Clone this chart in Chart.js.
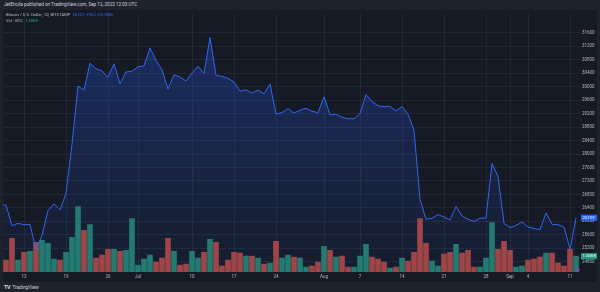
<!DOCTYPE html>
<html>
<head>
<meta charset="utf-8">
<script src="https://cdn.jsdelivr.net/npm/chart.js@4.4.0/dist/chart.umd.min.js"></script>
<style>
    html, body { margin: 0; padding: 0; width: 600px; height: 292px; overflow: hidden; background: #1e222d; font-family: Roboto, "Liberation Sans", sans-serif; }
    #head { position: absolute; left: 4px; top: 2px; font-size: 4.6px; color: #d1d4dc; white-space: nowrap; }
    #panel { position: absolute; left: 3px; top: 10px; width: 594px; height: 272px; background: #161a25; }
    #legend { position: absolute; left: 6px; top: 12px; font-size: 4.2px; line-height: 6px; color: #b2b5be; white-space: nowrap; }
    #legend .blue { color: #2f6bff; }
    #legend .teal { color: #26a69a; }
    #foot { position: absolute; left: 4px; top: 284px; font-size: 4.8px; color: #d1d4dc; white-space: nowrap; }
    #foot b { font-size: 5.4px; letter-spacing: -0.4px; margin-right: 1px; }
</style>
</head>
<body>
<div id="head">JetEncila published on TradingView.com, Sep 12, 2023 12:03 UTC</div>
<div id="panel"><canvas id="c" width="594" height="272"></canvas></div>
<div id="legend">
    <div>Bitcoin / U.S. Dollar, 1D, BITSTAMP&nbsp; <span class="blue">26107&nbsp; +952 (+3.78%)</span></div>
    <div>Vol · BTC&nbsp; <span class="teal">1.606K</span></div>
</div>
<div id="foot"><b>TV</b> TradingView</div>
<script>
// daily closes, Jun 8 .. Sep 12 2023 (day 0 = Jun 12)
const startDay = -4;
const closes = [
    26500, 26480, 25870, 25940, 25900, 25910, 25150, 25580, 26320, 26520, 26340, 26830, 28300,
    30020, 29900, 30700, 30530, 30470, 30280, 30680, 30090, 30440, 30460,
    30590, 30620, 31150, 30780, 30500, 29930, 30350, 30290, 30170, 30410, 30610, 30390, 31470,
    30330, 30310, 30250, 30140, 29870, 29910, 29810, 29900, 29790, 30080, 29190, 29230, 29350,
    29220, 29300, 29360, 29270, 29230,
    29700, 29170, 29180, 29090, 29050, 29050, 29200, 29770, 29560, 29430, 29410, 29420, 29280,
    29410, 29180, 28710, 26650, 26060, 26090, 26200, 26130, 26040, 26440, 26160, 26060, 26000,
    26090, 26100, 27720, 27320, 25940,
    25810, 25880, 25980, 25830, 25790, 25750, 26250, 25910, 25900, 25830, 25170, 26107
];
// volume in thousands of BTC
const volumes = [
    1.5, 1.2, 3.4, 1.2, 2.0, 2.1, 3.0, 3.2, 2.9, 1.3, 1.2, 2.0, 3.5,
    6.6, 4.2, 4.8, 1.4, 1.7, 2.3, 2.3, 2.1, 2.2, 5.4,
    0.7, 1.3, 1.7, 1.0, 1.4, 3.4, 2.1, 0.7, 0.8, 2.1, 1.4, 2.0, 3.3,
    3.0, 0.6, 1.2, 2.0, 1.9, 1.6, 1.6, 1.4, 0.8, 0.9, 3.1, 1.4, 1.7,
    1.5, 1.4, 0.5, 0.6, 1.0,
    2.6, 2.2, 1.5, 1.6, 0.5, 0.5, 1.6, 2.8, 1.5, 1.3, 1.0, 0.4, 0.5,
    1.4, 1.1, 2.0, 5.4, 2.9, 1.1, 0.6, 1.8, 2.0, 2.8, 1.9, 2.2, 0.5,
    0.5, 1.4, 5.0, 2.3, 3.1,
    2.2, 0.5, 0.6, 1.2, 1.3, 1.5, 1.9, 1.9, 0.9, 0.6, 2.3, 1.606
];
const tickDays = [0, 7, 14, 19, 28, 35, 42, 50, 56, 63, 70, 77, 81, 84, 91];
const tickLabels = ['12', '19', '26', 'Jul', '10', '17', '24', 'Aug', '7', '14', '21', '28', 'Sep', '4', '11'];
const priceTicks = [24800, 25200, 25600, 26000, 26400, 26800, 27200, 27600, 28000, 28400,
    28800, 29200, 29600, 30000, 30400, 30800, 31200, 31600];

const blue = '#3266f0';
const up = '#227a71';
const down = '#9e4548';
const grid = 'rgba(60,64,78,0.32)';
const muted = '#b2b5be';

const pricePts = closes.map((c, i) => ({ x: startDay + i, y: c }));
const volPts = volumes.map((v, i) => ({ x: startDay + i, y: v }));
const volColors = closes.map((c, i) => (i === 0 || c >= closes[i - 1]) ? up : down);

const areaFill = (ctx) => {
    const a = ctx.chart.chartArea;
    if (!a) return 'rgba(41,98,255,0.2)';
    const g = ctx.chart.ctx.createLinearGradient(0, a.top, 0, a.bottom);
    g.addColorStop(0, 'rgba(41,98,255,0.30)');
    g.addColorStop(1, 'rgba(41,98,255,0.04)');
    return g;
};

// last value tags on the right axis
const lastTags = {
    id: 'lastTags',
    afterDraw(chart) {
        const { ctx, chartArea: a, scales } = chart;
        const tag = (y, bg, text) => {
            ctx.fillStyle = bg;
            ctx.fillRect(a.right, y - 3, 16, 6);
            ctx.fillStyle = '#ffffff';
            ctx.font = '4.4px Roboto, sans-serif';
            ctx.textBaseline = 'middle';
            ctx.textAlign = 'left';
            ctx.fillText(text, a.right + 1.5, y + 0.2);
        };
        tag(scales.y.getPixelForValue(closes[closes.length - 1]), '#2962ff', String(closes[closes.length - 1]));
        tag(scales.vol.getPixelForValue(volumes[volumes.length - 1]), '#1f9a83', volumes[volumes.length - 1].toFixed(3) + 'K');
        ctx.beginPath();
        ctx.arc(a.right - 3, a.bottom - 2, 1.8, 0, Math.PI * 2);
        ctx.fillStyle = '#8e44ad';
        ctx.fill();
    }
};

new Chart(document.getElementById('c'), {
    type: 'bar',
    data: {
        datasets: [
            {
                type: 'line',
                data: pricePts,
                yAxisID: 'y',
                borderColor: blue,
                borderWidth: 1,
                pointRadius: 0,
                tension: 0,
                fill: false,
                order: 0
            },
            {
                type: 'bar',
                data: volPts,
                yAxisID: 'vol',
                backgroundColor: volColors,
                barThickness: 5,
                order: 1
            },
            {
                type: 'line',
                data: pricePts,
                yAxisID: 'y',
                borderWidth: 0,
                pointRadius: 0,
                tension: 0,
                fill: 'start',
                backgroundColor: areaFill,
                order: 2
            }
        ]
    },
    options: {
        responsive: false,
        animation: false,
        layout: { padding: { top: 1, left: 0, right: 0, bottom: 0 } },
        plugins: { legend: { display: false }, tooltip: { enabled: false } },
        scales: {
            x: {
                type: 'linear',
                min: -3.5,
                max: 92.83,
                offset: false,
                grid: { color: grid, drawTicks: false, offset: false },
                border: { display: false },
                afterBuildTicks: (s) => { s.ticks = tickDays.map(v => ({ value: v })); },
                afterFit: (s) => { s.height = 10; },
                ticks: {
                    autoSkip: false,
                    maxRotation: 0,
                    padding: 2,
                    color: muted,
                    font: { family: 'Roboto', size: 4.5 },
                    callback: (v, i) => tickLabels[i]
                }
            },
            y: {
                position: 'right',
                min: 24494,
                max: 32170,
                grid: { color: grid, drawTicks: false },
                border: { display: false },
                afterBuildTicks: (s) => { s.ticks = priceTicks.map(v => ({ value: v })); },
                afterFit: (s) => { s.width = 16; },
                ticks: {
                    padding: 1,
                    color: muted,
                    font: { family: 'Roboto', size: 4.5 },
                    callback: (v) => String(v)
                }
            },
            vol: {
                display: false,
                min: 0,
                max: 26.1
            }
        }
    },
    plugins: [lastTags]
});
</script>
</body>
</html>
